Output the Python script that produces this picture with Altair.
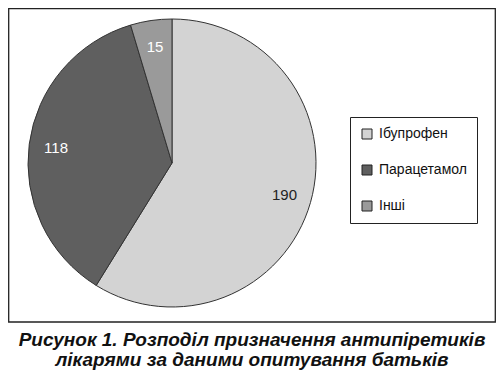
import altair as alt
import pandas as pd

categories = ["Ібупрофен", "Парацетамол", "Інші"]
values = [190, 118, 15]
order_idx = [1, 2, 3]
colors = ["#d3d3d3", "#5f5f5f", "#9a9a9a"]
caption = ["Рисунок 1. Розподіл призначення антипіретиків",
           "лікарями за даними опитування батьків"]

df = pd.DataFrame({"name": categories, "value": values, "idx": order_idx})

W, H = 488, 362
CX, CY = 164, 155

base = alt.Chart(df).encode(
    theta=alt.Theta("value:Q", stack=True),
    order=alt.Order("idx:Q"),
)

pie = base.mark_arc(stroke="#333333", strokeWidth=1).encode(
    x=alt.value(CX), y=alt.value(CY), radius=alt.value(144),
    color=alt.Color("name:N",
                    scale=alt.Scale(domain=categories, range=colors),
                    sort=categories,
                    legend=alt.Legend(title=None, orient="none", legendX=342, legendY=109)),
)

labels = base.mark_text(font="Liberation Sans", fontSize=15).encode(
    x=alt.value(CX), y=alt.value(CY), radius=alt.value(117),
    text=alt.Text("value:Q"),
    color=alt.condition(alt.datum.name == "Ібупрофен", alt.value("#222222"), alt.value("white")),
)

frame = alt.Chart(pd.DataFrame({"a": [0]})).mark_rect(
    fill=None, stroke="#222222", strokeWidth=1.3
).encode(x=alt.value(0.7), x2=alt.value(W - 0.7), y=alt.value(0.7), y2=alt.value(314))

cap_df = pd.DataFrame({"t": caption, "line": [0, 1]})
cap = alt.Chart(cap_df).mark_text(
    font="Liberation Sans", fontSize=19, fontWeight="bold", fontStyle="italic",
    color="#111111", align="center", baseline="middle"
).encode(
    x=alt.value(W / 2),
    y=alt.Y("line:Q", axis=None, scale=alt.Scale(domain=[0, 1], range=[332, 352])),
    text="t:N",
)

chart = alt.layer(frame, pie, labels, cap).properties(
    width=W, height=H, padding=0, autosize=alt.AutoSizeParams(type="none"), background="white"
).configure_view(stroke=None).configure_legend(
    strokeColor="#222222", padding=10, fillColor="white", symbolType="square",
    symbolSize=100, symbolStrokeColor="#222222", symbolStrokeWidth=1,
    labelFontSize=14, labelFont="Liberation Sans", labelColor="#111111",
    rowPadding=22, labelOffset=5, cornerRadius=0,
)

chart.save("out.html", embed_options={"renderer": "svg", "actions": False})
